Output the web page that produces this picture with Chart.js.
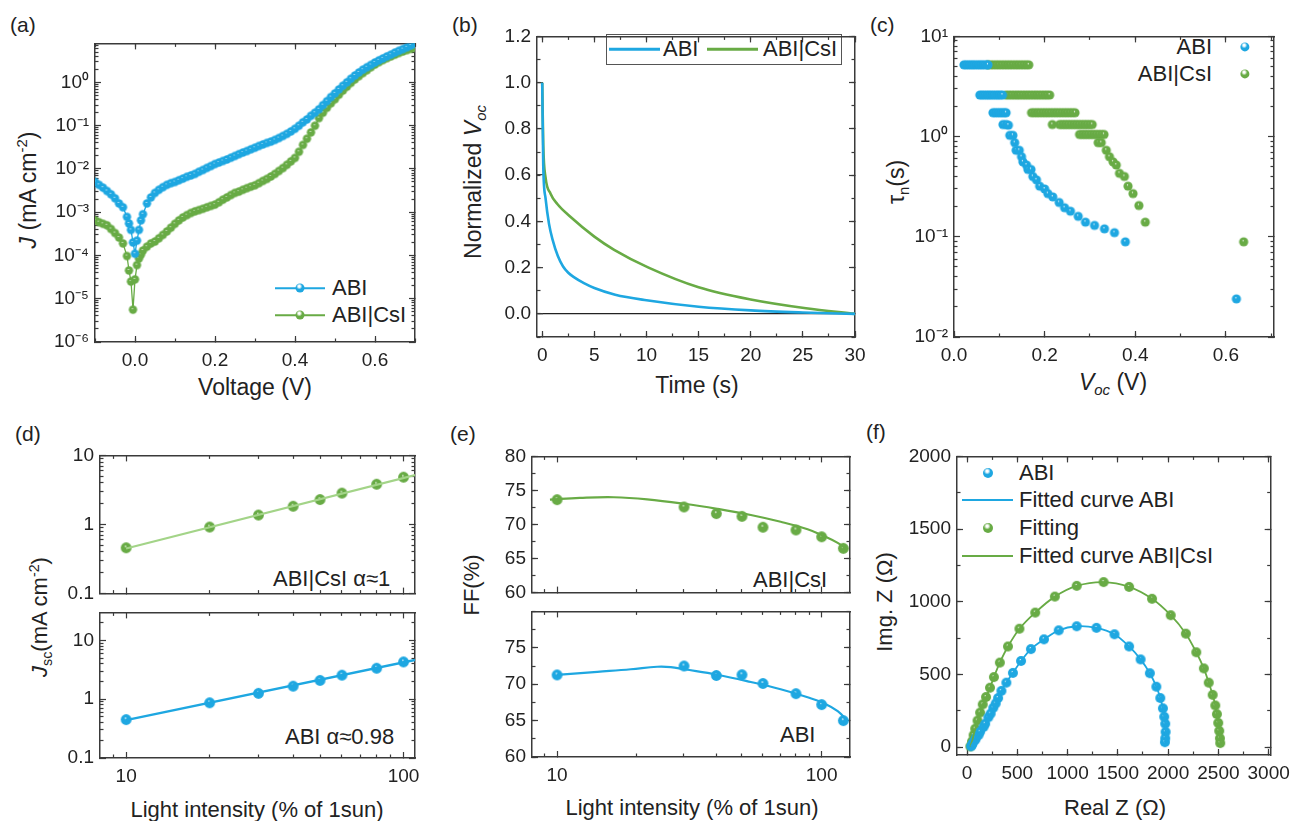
<!DOCTYPE html>
<html>
<head>
<meta charset="utf-8">
<script src="https://cdn.jsdelivr.net/npm/chart.js@4.4.0/dist/chart.umd.min.js"></script>
<style>
body { margin:0; background:#fff; width:1299px; height:821px; position:relative; overflow:hidden;
       font-family:"Liberation Sans", Arial, sans-serif; color:#222; }
canvas { position:absolute; }
.t { position:absolute; white-space:nowrap; transform:translateY(-50%); line-height:1; }
.ttl { position:absolute; white-space:nowrap; transform:translate(-50%,-50%); font-size:22px; line-height:1; }
.rot { transform:translate(-50%,-50%) rotate(-90deg); }
.pl { position:absolute; font-size:21px; line-height:1; }
sub, sup { font-size:65%; line-height:0; }
.ln { position:absolute; height:2px; transform:translateY(-50%); }
.dot { position:absolute; border-radius:50%; transform:translate(-50%,-50%); }
.box { position:absolute; border:1px solid #555; }
</style>
</head>
<body>
<script>
// ---- data ----
// (a) J-V, dark
const aV = [-0.10,-0.09,-0.08,-0.07,-0.06,-0.05,-0.04,-0.03,-0.02,-0.015,-0.01,-0.005,0.00,0.005,0.01,0.015,0.02,0.03,0.04,0.05,0.06,0.07,0.08,0.09,0.10,
  0.11,0.12,0.13,0.14,0.15,0.16,0.17,0.18,0.19,0.20,0.21,0.22,0.23,0.24,0.25,0.26,0.27,0.28,0.29,0.30,0.31,0.32,0.33,0.34,0.35,
  0.36,0.37,0.38,0.39,0.40,0.41,0.42,0.43,0.44,0.45,0.46,0.47,0.48,0.49,0.50,0.51,0.52,0.53,0.54,0.55,0.56,0.57,0.58,0.59,0.60,
  0.61,0.62,0.63,0.64,0.65,0.66,0.67,0.68,0.69,0.70];
const aAbi = [5.0e-3,4.3e-3,3.7e-3,3.1e-3,2.6e-3,2.1e-3,1.6e-3,1.3e-3,7.8e-4,5.5e-4,3.9e-4,2.0e-4,1.1e-4,2.2e-4,3.9e-4,6.5e-4,9.0e-4,1.6e-3,2.2e-3,2.8e-3,3.3e-3,3.8e-3,4.3e-3,4.7e-3,5.0e-3,
  5.5e-3,6.0e-3,6.6e-3,7.1e-3,7.7e-3,8.6e-3,9.5e-3,1.06e-2,1.17e-2,1.30e-2,1.41e-2,1.53e-2,1.66e-2,1.82e-2,2.0e-2,2.2e-2,2.4e-2,2.6e-2,2.85e-2,3.1e-2,3.4e-2,3.7e-2,4.0e-2,4.3e-2,4.7e-2,
  5.2e-2,5.8e-2,6.5e-2,7.4e-2,8.5e-2,0.10,0.12,0.14,0.17,0.20,0.24,0.30,0.37,0.46,0.56,0.69,0.84,1.01,1.22,1.45,1.70,1.98,2.25,2.55,2.90,
  3.25,3.6,4.0,4.4,4.9,5.4,5.9,6.5,7.2,8.0];
const aCsi = [6.5e-4,5.9e-4,5.4e-4,5.0e-4,4.1e-4,3.3e-4,2.6e-4,1.9e-4,9.7e-5,4.5e-5,2.5e-5,5.6e-6,2.8e-5,6.0e-5,8.5e-5,1.05e-4,1.3e-4,1.6e-4,1.9e-4,2.1e-4,2.5e-4,3.0e-4,3.6e-4,4.4e-4,5.4e-4,
  6.5e-4,7.6e-4,8.6e-4,9.6e-4,1.05e-3,1.12e-3,1.2e-3,1.3e-3,1.4e-3,1.5e-3,1.7e-3,1.95e-3,2.2e-3,2.5e-3,2.8e-3,3.0e-3,3.3e-3,3.6e-3,3.9e-3,4.2e-3,4.7e-3,5.3e-3,5.9e-3,6.7e-3,7.7e-3,
  9.0e-3,1.05e-2,1.25e-2,1.5e-2,1.8e-2,2.5e-2,3.6e-2,5.0e-2,7.0e-2,0.10,0.15,0.20,0.26,0.33,0.41,0.52,0.65,0.80,0.98,1.18,1.40,1.65,1.92,2.25,2.6,
  2.95,3.3,3.65,4.0,4.4,4.8,5.2,5.6,6.0,6.4];
const aYTicks = [1e-6,1e-5,1e-4,1e-3,1e-2,1e-1,1];
const aXTicks = [0,0.2,0.4,0.6];

// (b) Voc decay
const bTAbi = [0,0.1,0.32,0.65,1.0,1.5,2,2.5,3,4,5,7,10,15,20,25,30];
const bVAbi = [1.0,0.64,0.5,0.39,0.32,0.25,0.205,0.178,0.16,0.133,0.112,0.083,0.059,0.031,0.015,0.006,0];
const bTCsi = [0,0.1,0.32,0.8,1.45,2.7,5,6.9,10.2,15,20,25.3,30];
const bVCsi = [1.0,0.73,0.59,0.52,0.475,0.42,0.334,0.277,0.2,0.115,0.062,0.024,0];
const bYTicks = [0,0.2,0.4,0.6,0.8,1.0,1.2];
const bXTicks = [0,5,10,15,20,25,30];

// (c) lifetime vs Voc
const cAbiV = [0.022,0.027,0.032,0.037,0.042,0.047,0.052,0.057,0.062,0.067,0.072,0.075,
  0.057,0.062,0.067,0.072,0.077,0.082,0.087,0.092,0.097,0.102,0.107,
  0.086,0.091,0.096,0.101,0.106,0.111,0.115,
  0.108,0.115,0.120,0.123,0.130,0.134,0.137,0.144,0.149,0.152,0.160,0.163,0.170,0.174,0.182,0.189,0.200,0.207,0.218,0.232,
  0.244,0.257,0.274,0.290,0.310,0.332,0.354,0.378,0.623];
const cAbiTau = [5.2,5.2,5.2,5.2,5.2,5.2,5.2,5.2,5.2,5.2,5.2,5.2,
  2.6,2.6,2.6,2.6,2.6,2.6,2.6,2.6,2.6,2.6,2.6,
  1.73,1.73,1.73,1.73,1.73,1.73,1.73,
  1.32,1.32,1.30,1.03,1.03,0.87,0.73,0.73,0.63,0.56,0.52,0.47,0.47,0.40,0.37,0.32,0.30,0.27,0.25,0.22,
  0.195,0.18,0.16,0.14,0.13,0.12,0.11,0.089,0.024];
const cCsiV = [0.075,0.081,0.087,0.093,0.099,0.105,0.111,0.117,0.123,0.129,0.135,0.141,0.147,0.153,0.159,0.165,
  0.115,0.121,0.127,0.133,0.139,0.145,0.151,0.157,0.163,0.169,0.175,0.181,0.187,0.193,0.199,0.205,0.211,
  0.171,0.177,0.183,0.189,0.195,0.201,0.207,0.213,0.219,0.225,0.231,0.237,0.243,0.249,0.255,0.261,0.267,
  0.217,0.233,0.239,0.245,0.251,0.257,0.263,0.269,0.275,0.281,0.287,0.293,0.299,0.305,
  0.277,0.283,0.289,0.295,0.301,0.307,0.313,0.319,0.325,0.331,
  0.318,0.325,0.336,0.343,0.351,0.358,0.365,0.376,0.384,0.395,0.408,0.422,0.639];
const cCsiTau = [5.2,5.2,5.2,5.2,5.2,5.2,5.2,5.2,5.2,5.2,5.2,5.2,5.2,5.2,5.2,5.2,
  2.6,2.6,2.6,2.6,2.6,2.6,2.6,2.6,2.6,2.6,2.6,2.6,2.6,2.6,2.6,2.6,2.6,
  1.73,1.73,1.73,1.73,1.73,1.73,1.73,1.73,1.73,1.73,1.73,1.73,1.73,1.73,1.73,1.73,1.73,
  1.32,1.32,1.32,1.32,1.32,1.32,1.32,1.32,1.32,1.32,1.32,1.32,1.32,1.32,
  1.05,1.05,1.05,1.05,1.05,1.05,1.05,1.05,1.05,1.05,
  0.87,0.87,0.73,0.63,0.56,0.52,0.43,0.40,0.32,0.27,0.205,0.14,0.089];
const cYTicks = [0.01,0.1,1,10];
const cXTicks = [0,0.2,0.4,0.6];

// (d) Jsc vs light intensity
const dI = [10,20,30,40,50,60,80,100];
const dCsi = [0.46,0.92,1.37,1.84,2.3,2.85,3.83,4.84];
const dAbi = [0.45,0.87,1.26,1.67,2.09,2.57,3.37,4.31];
const dFitI = [10,110];
const dFitCsi = [0.45,5.2];
const dFitAbi = [0.44,4.65];
const dYTicks = [0.1,1,10];
const dXTicks = [10,100];

// (e) FF vs light intensity
const eI = [10,30.2,40,50,60,80,100,120.8];
const eCsi = [73.65,72.57,71.6,71.2,69.6,69.2,68.2,66.5];
const eAbi = [71.28,72.5,71.2,71.3,70.1,68.7,67.2,65.0];
const eFitCsiI = [9.4,12.2,16.4,21.9,30.2,40.3,54,70,88.5,102,115,125];
const eFitCsi = [73.65,73.9,74.0,73.7,73.05,72.3,71.4,70.4,69.3,68.3,67.3,66.3];
const eFitAbiI = [10,14.2,19,23.9,26.9,30.2,40.3,54,70,88.5,102,115,125];
const eFitAbi = [71.28,71.7,72.05,72.4,72.35,72.05,71.3,70.3,69.3,68.2,67.4,66.3,65.0];
const eYTicksTop = [60,65,70,75,80];
const eYTicksBot = [60,65,70,75];
const eXTicks = [10,100];

// (f) Nyquist
const fAbiRe = [40,49,60,81,90,114,130,163,180,212,235,261,285,309,342,391,456,537,635,765,912,1091,1287,1466,1612,1726,1818,1883,1922,1948,1961,1971,1975,1971,1968];
const fAbiIm = [5,15,30,49,65,82,105,137,160,204,230,270,300,337,386,443,510,592,674,741,803,831,820,776,692,603,508,415,337,266,208,160,104,60,33];
const fCsiRe = [33,49,65,81,104,130,156,189,228,267,326,407,521,678,873,1091,1358,1612,1840,2026,2176,2280,2355,2404,2443,2469,2485,2498,2508,2515,2518];
const fCsiIm = [4,38,82,126,182,237,293,344,408,481,581,692,814,925,1035,1109,1135,1102,1020,907,780,652,541,443,359,286,226,166,111,60,27];
const fXTicks = [0,500,1000,1500,2000,2500,3000];
const fYTicks = [0,500,1000,1500,2000];

// ---- styling ----
const BLUE = '#1ea7e1';
const GREEN = '#68ab45';
const LIGHTGREEN = '#a3d488';
const FR = '#3a3a3a';
Chart.defaults.font.family = '"Liberation Sans", Arial, sans-serif';
Chart.defaults.color = '#222';

// ---- html text: panel labels, axis titles, legends ----
function el(cls, x, y, html, style) {
    const d = document.createElement('div');
    d.className = cls;
    d.style.left = x + 'px';
    d.style.top = y + 'px';
    d.innerHTML = html;
    if (style) d.style.cssText += style;
    document.body.appendChild(d);
    return d;
}
function dotCss(color, r) {
    return 'width:' + (2 * r) + 'px;height:' + (2 * r) + 'px;background:radial-gradient(circle at 42% 32%, #fff 0, #fff 12%, ' + color + ' 38%, ' + color + ' 100%);';
}

el('pl', 10, 14, '(a)'); el('pl', 452, 14, '(b)'); el('pl', 870, 14, '(c)');
el('pl', 15, 423, '(d)'); el('pl', 450, 423, '(e)'); el('pl', 866, 421, '(f)');

el('ttl rot', 28, 190, '<i>J</i> (mA cm<sup>-2</sup>)', 'font-size:23px;');
el('ttl', 255, 387, 'Voltage (V)', 'font-size:23px;');
el('ttl rot', 473, 182, 'Normalized <i>V</i><sub><i>oc</i></sub>', 'font-size:23px;');
el('ttl', 697, 385, 'Time (s)', 'font-size:23px;');
el('ttl rot', 896, 182, '\u03C4<sub>n</sub>(s)', 'font-size:23px;');
el('ttl', 1113, 382, '<i>V</i><sub><i>oc</i></sub> (V)', 'font-size:23px;');
el('ttl rot', 40, 617, '<i>J</i><sub>sc</sub>(mA cm<sup>-2</sup>)');
el('ttl', 257, 810, 'Light intensity (% of 1sun)');
el('ttl rot', 472, 585, 'FF(%)');
el('ttl', 692, 808, 'Light intensity (% of 1sun)');
el('ttl rot', 885, 602, 'Img. Z (\u03A9)');
el('ttl', 1115, 808, 'Real Z (\u03A9)');

// (a) legend
el('ln', 275, 288, '', 'width:50px;background:' + BLUE + ';height:1.5px;');
el('dot', 300, 288, '', dotCss(BLUE, 4.5));
el('t', 332, 288, 'ABI', 'font-size:22px;');
el('ln', 275, 315, '', 'width:50px;background:' + GREEN + ';height:1.5px;');
el('dot', 300, 315, '', dotCss(GREEN, 4.5));
el('t', 332, 315, 'ABI|CsI', 'font-size:22px;');

// (b) legend
el('box', 606, 34, '', 'width:234px;height:29px;background:#fff;');
el('ln', 609, 49, '', 'width:51px;background:' + BLUE + ';height:2.5px;');
el('t', 663, 49, 'ABI', 'font-size:22px;');
el('ln', 707, 49, '', 'width:51px;background:' + GREEN + ';height:2.5px;');
el('t', 763, 49, 'ABI|CsI', 'font-size:22px;');

// (c) legend
el('t', 1040, 47, 'ABI', 'font-size:22px;width:172px;text-align:right;');
el('dot', 1245, 47, '', dotCss(BLUE, 4.6));
el('t', 1040, 74, 'ABI|CsI', 'font-size:22px;width:172px;text-align:right;');
el('dot', 1245, 74, '', dotCss(GREEN, 4.6));

// (d) / (e) labels
el('t', 273, 579, 'ABI|CsI \u03B1\u22481', 'font-size:22px;');
el('t', 285, 737, 'ABI \u03B1\u22480.98', 'font-size:22px;');
el('t', 753, 580, 'ABI|CsI', 'font-size:22px;');
el('t', 780, 735, 'ABI', 'font-size:22px;');

// (f) legend
el('dot', 988, 473, '', dotCss(BLUE, 5));
el('t', 1019, 473, 'ABI', 'font-size:22px;');
el('ln', 962, 500, '', 'width:51px;background:' + BLUE + ';');
el('t', 1019, 500, 'Fitted curve ABI', 'font-size:22px;');
el('dot', 988, 528, '', dotCss(GREEN, 5));
el('t', 1019, 528, 'Fitting', 'font-size:22px;');
el('ln', 962, 556, '', 'width:51px;background:' + GREEN + ';');
el('t', 1019, 556, 'Fitted curve ABI|CsI', 'font-size:22px;');

// ---- charts ----
function pts(xs, ys) {
    return xs.map((x, i) => ({x: x, y: ys[i]}));
}

function ball(color, r) {
    const c = document.createElement('canvas');
    const s = Math.ceil(r * 2 + 2);
    c.width = s; c.height = s;
    const g = c.getContext('2d');
    const cx = s / 2, cy = s / 2;
    const grad = g.createRadialGradient(cx - r * 0.15, cy - r * 0.3, 0, cx, cy, r);
    grad.addColorStop(0, '#ffffff');
    grad.addColorStop(0.25, color);
    grad.addColorStop(1, color);
    g.fillStyle = grad;
    g.beginPath(); g.arc(cx, cy, r, 0, Math.PI * 2); g.fill();
    return c;
}

const supMap = {'-': '\u207B', '0': '\u2070', '1': '\u00B9', '2': '\u00B2', '3': '\u00B3', '4': '\u2074', '5': '\u2075', '6': '\u2076', '7': '\u2077', '8': '\u2078', '9': '\u2079'};
function pow10(v) {
    const e = String(Math.round(Math.log10(v)));
    return '10' + e.split('').map(ch => supMap[ch]).join('');
}

// minor tick positions for the inward minor ticks
function minorVals(min, max, spec) {
    const out = [];
    if (spec === 'log') {
        const lo = Math.floor(Math.log10(min)), hi = Math.ceil(Math.log10(max));
        for (let d = lo; d <= hi; d++) {
            for (let m = 2; m <= 9; m++) {
                const v = m * Math.pow(10, d);
                if (v > min && v < max) out.push(v);
            }
        }
    } else if (spec) {
        for (let v = Math.ceil(min / spec) * spec; v <= max + 1e-9; v += spec) out.push(v);
    }
    return out;
}

// one axis direction = 4 scales: labelled side, its minor ticks, mirrored side, its minor ticks
// negative tickLength puts the tick marks inside the plot frame
function scaleSet(dir, type, min, max, majors, minorSpec, fmt, size, show) {
    const minors = minorVals(min, max, minorSpec);
    const one = (pos, weight, vals, tl, border, labels, fit) => ({
        type: type, min: min, max: max, position: pos, weight: weight,
        grid: {display: true, drawOnChartArea: false, drawTicks: true, tickLength: tl, tickColor: FR, tickWidth: 1.2},
        border: {display: border, color: FR, width: 1.5},
        ticks: {display: labels, autoSkip: false, maxRotation: 0, padding: (dir === 'x' ? 7 : 6) + 6,
                font: {size: 19}, color: '#222', callback: v => fmt(v)},
        afterBuildTicks: s => { s.ticks = vals.map(v => ({value: v})); },
        afterFit: s => { if (dir === 'x') s.height = fit; else s.width = fit; }
    });
    if (dir === 'x') {
        return {
            x: one('bottom', 1, majors, -6, true, show !== false, size),
            xm: one('bottom', 0, minors, -3.5, false, false, 0),
            xt: one('top', 0, majors, -6, true, false, 0),
            xtm: one('top', 1, minors, -3.5, false, false, 0)
        };
    }
    return {
        y: one('left', 1, majors, -6, true, show !== false, size),
        ym: one('left', 0, minors, -3.5, false, false, 0),
        yr: one('right', 0, majors, -6, true, false, 0),
        yrm: one('right', 1, minors, -3.5, false, false, 0)
    };
}

function panel(box, yw, xh, datasets, xSet, ySet) {
    const padT = 14, padR = 28;
    const c = document.createElement('canvas');
    c.width = box.r - box.l + yw + padR;
    c.height = box.b - box.t + padT + xh;
    c.style.left = (box.l - yw) + 'px';
    c.style.top = (box.t - padT) + 'px';
    document.body.appendChild(c);
    return new Chart(c, {
        type: 'scatter',
        data: {datasets: datasets},
        options: {
            responsive: false,
            animation: false,
            layout: {padding: {top: padT, right: padR, left: 0, bottom: 0}},
            plugins: {legend: {display: false}, tooltip: {enabled: false}},
            scales: Object.assign({}, xSet, ySet)
        }
    });
}

const f1 = v => v.toFixed(1);
const f0 = v => String(v);
const lg = v => (v >= 1 ? String(Math.round(v)) : String(v));

// (a)
const ballA_B = ball(BLUE, 4.2), ballA_G = ball(GREEN, 4.2);
panel({l: 95, t: 34, r: 415, b: 342}, 62, 40, [
    {data: pts(aV, aAbi), showLine: true, borderColor: BLUE, borderWidth: 1.3, pointStyle: ballA_B, pointRadius: 4},
    {data: pts(aV, aCsi), showLine: true, borderColor: GREEN, borderWidth: 1.3, pointStyle: ballA_G, pointRadius: 4}
], scaleSet('x', 'linear', -0.1, 0.7, aXTicks, 0.1, f1, 40),
   scaleSet('y', 'logarithmic', 1e-6, 8, aYTicks, 'log', pow10, 62));

// (b)
const bYSet = scaleSet('y', 'linear', -0.1, 1.2, bYTicks, 0.1, f1, 52);
bYSet.y.grid = {display: true, drawOnChartArea: true, drawTicks: true, tickLength: -6, tickColor: FR, tickWidth: 1.2,
                lineWidth: 1.3, color: c => (c.tick && c.tick.value === 0) ? '#222' : 'rgba(0,0,0,0)'};
panel({l: 537, t: 27, r: 855, b: 337}, 52, 40, [
    {data: pts(bTAbi, bVAbi), showLine: true, borderColor: BLUE, borderWidth: 2.6, pointRadius: 0, cubicInterpolationMode: 'monotone'},
    {data: pts(bTCsi, bVCsi), showLine: true, borderColor: GREEN, borderWidth: 2.6, pointRadius: 0, cubicInterpolationMode: 'monotone'}
], scaleSet('x', 'linear', -0.5, 30, bXTicks, 2.5, f0, 40), bYSet);

// (c)
const ballC_B = ball(BLUE, 4.6), ballC_G = ball(GREEN, 4.6);
panel({l: 954, t: 27, r: 1274, b: 337}, 50, 40, [
    {data: pts(cAbiV, cAbiTau), pointStyle: ballC_B, pointRadius: 4.6},
    {data: pts(cCsiV, cCsiTau), pointStyle: ballC_G, pointRadius: 4.6}
], scaleSet('x', 'linear', 0, 0.706, cXTicks, 0.1, f1, 40),
   scaleSet('y', 'logarithmic', 0.01, 10, cYTicks, 'log', pow10, 50));

// (d)
const ballD_B = ball(BLUE, 5.4), ballD_G = ball(GREEN, 5.4);
panel({l: 100, t: 446, r: 415, b: 603}, 45, 14, [
    {data: pts(dFitI, dFitCsi), showLine: true, borderColor: LIGHTGREEN, borderWidth: 2.2, pointRadius: 0},
    {data: pts(dI, dCsi), pointStyle: ballD_G, pointRadius: 5.4}
], scaleSet('x', 'logarithmic', 8.05, 110, dXTicks, 'log', lg, 14, false),
   scaleSet('y', 'logarithmic', 0.1, 10, dYTicks, 'log', lg, 45));
panel({l: 100, t: 603, r: 415, b: 758}, 45, 40, [
    {data: pts(dFitI, dFitAbi), showLine: true, borderColor: BLUE, borderWidth: 2.4, pointRadius: 0},
    {data: pts(dI, dAbi), pointStyle: ballD_B, pointRadius: 5.4}
], scaleSet('x', 'logarithmic', 8.05, 110, dXTicks, 'log', lg, 40),
   scaleSet('y', 'logarithmic', 0.1, 30, dYTicks, 'log', lg, 45));

// (e)
panel({l: 532, t: 447, r: 850, b: 602}, 45, 14, [
    {data: pts(eFitCsiI, eFitCsi), showLine: true, borderColor: GREEN, borderWidth: 2.2, pointRadius: 0, tension: 0.4},
    {data: pts(eI, eCsi), pointStyle: ballD_G, pointRadius: 5.4}
], scaleSet('x', 'logarithmic', 8.04, 128, eXTicks, 'log', lg, 14, false),
   scaleSet('y', 'linear', 60, 80, eYTicksTop, 2.5, f0, 45));
panel({l: 532, t: 602, r: 850, b: 757}, 45, 40, [
    {data: pts(eFitAbiI, eFitAbi), showLine: true, borderColor: BLUE, borderWidth: 2.2, pointRadius: 0, tension: 0.4},
    {data: pts(eI, eAbi), pointStyle: ballD_B, pointRadius: 5.4}
], scaleSet('x', 'logarithmic', 8.04, 128, eXTicks, 'log', lg, 40),
   scaleSet('y', 'linear', 60, 80, eYTicksBot, 2.5, f0, 45));

// (f)
const ballF_B = ball(BLUE, 5), ballF_G = ball(GREEN, 5);
panel({l: 957, t: 447, r: 1275, b: 755}, 62, 40, [
    {data: pts(fAbiRe, fAbiIm), showLine: true, borderColor: BLUE, borderWidth: 1.8, pointRadius: 0, tension: 0.3},
    {data: pts(fCsiRe, fCsiIm), showLine: true, borderColor: GREEN, borderWidth: 1.8, pointRadius: 0, tension: 0.3},
    {data: pts(fAbiRe, fAbiIm), pointStyle: ballF_B, pointRadius: 5},
    {data: pts(fCsiRe, fCsiIm), pointStyle: ballF_G, pointRadius: 5}
], scaleSet('x', 'linear', -100, 3020, fXTicks, 250, f0, 40),
   scaleSet('y', 'linear', -55, 2000, fYTicks, 250, f0, 62));
</script>
</body>
</html>
